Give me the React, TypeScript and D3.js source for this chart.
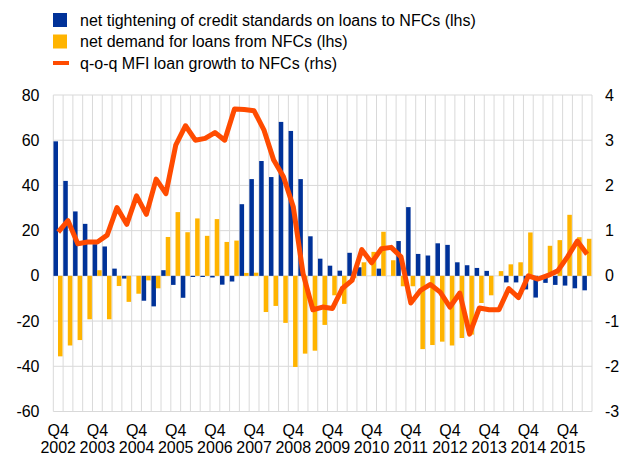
import React from "react";
import * as d3 from "d3";

const startYear = 2002;
const quarterLabels: string[] = Array.from({ length: 55 }, (_, i) => {
  const q = ((3 + i) % 4) + 1;
  const y = startYear + Math.floor((3 + i) / 4);
  return `Q${q} ${y}`;
});

const tightening = [
  59.5, 42, 28.5, 23, 14, 13, 3.2, -1.2, 0, -11, -13.5, 2.5, -4, -9.7, -0.5,
  -0.5, -0.7, -3.9, -2.5, 31.7, 42.8, 50.8, 43.7, 68.1, 64.1, 42.8, 17.5, 7.6,
  4.5, 2.3, 10.2, 3.8, 0, 3.2, 0, 15.4, 30.4, 9.7, 9.0, 14.4, 13.7, 6.0, 4.7,
  3.5, 2.2, 0, -2.9, -2.9, -6, -9.6, -3.1, -4, -4.3, -5.5, -6.4,
];

const demand = [
  -35.6, -30.8, -28.4, -19.2, 2.5, -19.2, -4.5, -11.5, -7.9, -2, -5.5, 17.2,
  28.2, 19.3, 25.4, 17.7, 25.1, 15.0, 15.6, 1.3, 1.4, -16, -13.3, -20.8, -40.3,
  -34.4, -33.1, -21.7, -8.6, -12.4, -1, 6, 10.6, 19.5, 6.9, -4.6, -4.6, -32.4,
  -30.6, -29.1, -30.8, -27.5, -26, -12, -8.6, 2.1, 5.1, 6, 19.2, 0, 13.3, 15.8,
  27, 17.1, 16.4,
];

const loanGrowth = [
  0.97, 1.22, 0.71, 0.75, 0.75, 0.9, 1.51, 1.14, 1.77, 1.36, 2.14, 1.82, 2.89,
  3.32, 3.0, 3.04, 3.17, 3.0, 3.69, 3.68, 3.65, 3.23, 2.56, 2.19, 1.53, 0.05,
  -0.75, -0.69, -0.72, -0.28, -0.1, 0.58, 0.29, 0.6, 0.63, 0.42, -0.6, -0.32,
  -0.19, -0.36, -0.69, -0.38, -1.29, -0.71, -0.75, -0.75, -0.28, -0.48, 0.0,
  -0.07, 0.01, 0.11, 0.42, 0.77, 0.48,
];

const leftTicks = [-60, -40, -20, 0, 20, 40, 60, 80];
const rightTicks = [-3, -2, -1, 0, 1, 2, 3, 4];

const legendItems = [
  { label: "net tightening of credit standards on loans to NFCs (lhs)", color: "#003299", kind: "box" },
  { label: "net demand for loans from NFCs (lhs)", color: "#FFB400", kind: "box" },
  { label: "q-o-q MFI loan growth to NFCs (rhs)", color: "#FF4B00", kind: "line" },
];

const BLUE = "#003299";
const YELLOW = "#FFB400";
const ORANGE = "#FF4B00";
const GRID = "#d9d9d9";
const FONT = "'Liberation Sans', Arial, sans-serif";

export default function App() {
  const W = 622;
  const H = 455;
  const left = 53.3;
  const right = 592;
  const top = 95;
  const bottom = 411.5;

  const idx = quarterLabels.map((_, i) => i);
  const x = d3.scaleBand<number>().domain(idx).range([left, right]).padding(0);
  const bw = x.bandwidth();
  const yL = d3.scaleLinear().domain([-60, 80]).range([bottom, top]);
  const yR = d3.scaleLinear().domain([-3, 4]).range([bottom, top]);

  const line = d3
    .line<number>()
    .x((_, i) => (x(i) as number) + bw / 2)
    .y((d) => yR(d));

  const boundaries = idx.map((i) => x(i) as number).concat([right]);

  return (
    <svg
      width={W}
      height={H}
      style={{ position: "absolute", left: 0, top: 0, background: "#fff" }}
      fontFamily={FONT}
    >
      <rect x={0} y={0} width={W} height={H} fill="#fff" />
      {/* grid */}
      {leftTicks.map((t) => (
        <line key={"h" + t} x1={left} x2={right} y1={yL(t)} y2={yL(t)} stroke={GRID} strokeWidth={1} />
      ))}
      {boundaries.map((b, i) => (
        <line key={"v" + i} x1={b} x2={b} y1={top} y2={bottom} stroke={GRID} strokeWidth={1} />
      ))}
      {/* bars */}
      {tightening.map((v, i) => (
        <rect
          key={"b" + i}
          x={(x(i) as number) + bw * 0.02}
          width={bw * 0.46}
          y={Math.min(yL(v), yL(0))}
          height={Math.abs(yL(v) - yL(0))}
          fill={BLUE}
        />
      ))}
      {demand.map((v, i) => (
        <rect
          key={"o" + i}
          x={(x(i) as number) + bw * 0.48}
          width={bw * 0.46}
          y={Math.min(yL(v), yL(0))}
          height={Math.abs(yL(v) - yL(0))}
          fill={YELLOW}
        />
      ))}
      {/* line */}
      <path
        d={line(loanGrowth) || ""}
        fill="none"
        stroke={ORANGE}
        strokeWidth={5}
        strokeLinejoin="round"
        strokeLinecap="butt"
      />
      {/* left axis labels */}
      {leftTicks.map((t) => (
        <text key={"lt" + t} x={39.5} y={yL(t)} dy="0.35em" textAnchor="end" fontSize={16} fill="#000">
          {t}
        </text>
      ))}
      {rightTicks.map((t) => (
        <text key={"rt" + t} x={605} y={yR(t)} dy="0.35em" textAnchor="start" fontSize={16} fill="#000">
          {t}
        </text>
      ))}
      {/* x labels */}
      {quarterLabels.map((lab, i) => {
        if (i % 4 !== 0) return null;
        const [q, yr] = lab.split(" ");
        const cx = (x(i) as number) + bw / 2;
        return (
          <g key={"xl" + i}>
            <text x={cx} y={436} textAnchor="middle" fontSize={16} fill="#000">
              {q}
            </text>
            <text x={cx} y={453} textAnchor="middle" fontSize={16} fill="#000">
              {yr}
            </text>
          </g>
        );
      })}
      {/* legend */}
      {legendItems.map((it, i) => {
        const cy = 20 + i * 21.5;
        return (
          <g key={"lg" + i}>
            {it.kind === "box" ? (
              <rect x={53} y={cy - 7} width={14} height={14} fill={it.color} />
            ) : (
              <rect x={53} y={cy - 2} width={16} height={4} fill={it.color} />
            )}
            <text x={80} y={cy} dy="0.35em" fontSize={16} fill="#000">
              {it.label}
            </text>
          </g>
        );
      })}
    </svg>
  );
}
